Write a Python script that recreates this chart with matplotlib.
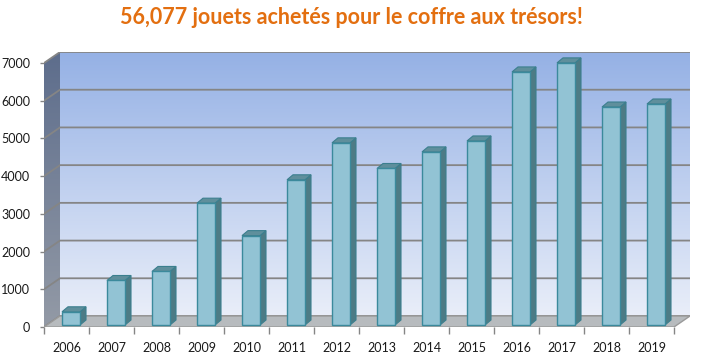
import numpy as np
import matplotlib
matplotlib.use("Agg")
import matplotlib.pyplot as plt
from matplotlib.patches import Polygon
from matplotlib.colors import LinearSegmentedColormap

# data
years = ["2006", "2007", "2008", "2009", "2010", "2011", "2012",
         "2013", "2014", "2015", "2016", "2017", "2018", "2019"]
toys = [350, 1180, 1420, 3230, 2370, 3850, 4830,
        4150, 4590, 4880, 6710, 6950, 5780, 5860]
yticks = [0, 1000, 2000, 3000, 4000, 5000, 6000, 7000]
title = "56,077 jouets achetés pour le coffre aux trésors!"

plt.rcParams['font.family'] = ['Lato', 'DejaVu Sans']

W, H = 702, 360
fig = plt.figure(figsize=(W / 100, H / 100), dpi=100)
fig.patch.set_facecolor("white")

n = len(years)
ymax = 7000
front_w, front_h = 630, 264          # front plane in pixels
ux = n / front_w                     # data units per pixel
uy = ymax / front_h
dx, dy = 16 * ux, 11 * uy            # depth of the box

ax = fig.add_axes([44 / W, 33 / H, (front_w + 16) / W, (front_h + 11) / H])
ax.set_xlim(-0.5, n - 0.5 + dx)
ax.set_ylim(0, ymax + dy)
ax.patch.set_visible(False)
for s in ax.spines.values():
    s.set_visible(False)

x0, x1 = -0.5, n - 0.5

# back wall gradient
wall = LinearSegmentedColormap.from_list("wall", ["#e9eef9", "#95b1e5"])
grad = np.linspace(0, 1, 256).reshape(-1, 1)
ax.imshow(grad, cmap=wall, origin="lower", aspect="auto",
          extent=[x0 + dx, x1 + dx, dy, ymax + dy], zorder=0)

# left side wall
side = LinearSegmentedColormap.from_list("side", ["#939aa6", "#5d6d8c"])
sw = Polygon([(x0, 0), (x0, ymax), (x0 + dx, ymax + dy), (x0 + dx, dy)],
             closed=True, facecolor="none", edgecolor="none")
ax.add_patch(sw)
im = ax.imshow(grad, cmap=side, origin="lower", aspect="auto",
               extent=[x0, x0 + dx, 0, ymax + dy], zorder=0)
im.set_clip_path(sw)

# gridlines on back and side wall
for v in yticks:
    ax.plot([x0, x0 + dx, x1 + dx], [v, v + dy, v + dy],
            color="#858585", lw=1.3, zorder=1, solid_capstyle="butt")

# floor
floor = Polygon([(x0, 0), (x1, 0), (x1 + dx, dy), (x0 + dx, dy)], closed=True,
                facecolor="#b7bbbe", edgecolor="#9a9a9a", lw=1, zorder=2)
ax.add_patch(floor)

# bars (front face at mid depth)
x = np.arange(n)
bw = 0.4
bx, by = 4.5 * ux, 2 * uy
bdx, bdy = 6 * ux, 5 * uy
ax.bar(x + bx, toys, width=bw, bottom=by, color="#92c3d4",
       edgecolor="#3b8a9c", lw=1, zorder=5)
for xi, v in zip(x + bx, toys):
    xl, xr = xi - bw / 2, xi + bw / 2
    top = by + v
    ax.add_patch(Polygon([(xr, by), (xr, top), (xr + bdx, top + bdy), (xr + bdx, by + bdy)],
                         closed=True, facecolor="#4d7b85", edgecolor="#3b7f8e",
                         lw=0.8, zorder=4))
    ax.add_patch(Polygon([(xl, top), (xr, top), (xr + bdx, top + bdy), (xl + bdx, top + bdy)],
                         closed=True, facecolor="#5f8f9c", edgecolor="#3b7f8e",
                         lw=0.8, zorder=4))

# axes ticks and labels
ax.set_yticks(yticks)
ax.set_yticklabels([str(v) for v in yticks])
ax.tick_params(axis="y", length=3, width=1, color="#858585", pad=7,
               labelsize=9, labelcolor="#1a1a1a")
ax.set_xticks(x)
ax.set_xticklabels(years)
ax.set_xticks(np.arange(n + 1) - 0.5, minor=True)
ax.tick_params(axis="x", which="major", length=0, pad=11,
               labelsize=9, labelcolor="#1a1a1a")
ax.tick_params(axis="x", which="minor", length=5, width=1, color="#858585")

fig.text(0.5, 1 - 18 / H, title, ha="center", va="center",
         fontsize=15.5, fontweight="bold", color="#e36f10")

fig.savefig("out.png", dpi=100)
